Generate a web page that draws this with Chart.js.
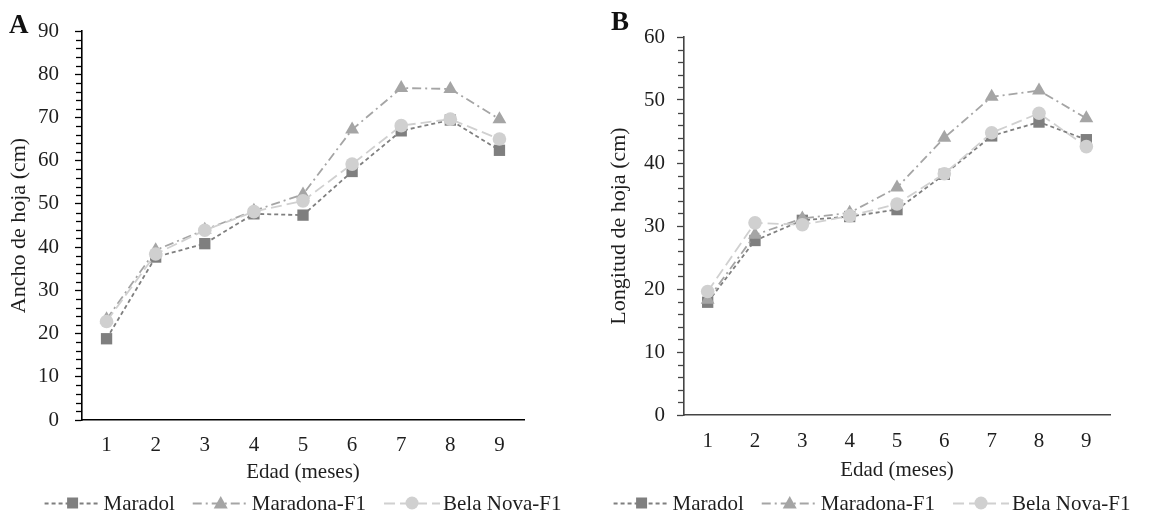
<!DOCTYPE html>
<html>
<head>
<meta charset="utf-8">
<script src="https://cdn.jsdelivr.net/npm/chart.js@4.4.1/dist/chart.umd.min.js"></script>
<style>
  html, body { margin: 0; padding: 0; background: #fff; }
  body { width: 1149px; height: 521px; position: relative; overflow: hidden; }
  .panel { position: absolute; top: 0; height: 521px; }
  #wa { left: 0; width: 575px; }
  #wb { left: 575px; width: 574px; }
  .tag { position: absolute; font-family: "Liberation Serif", serif; font-weight: bold; font-size: 27px; color: #111; }
</style>
</head>
<body>
<div class="panel" id="wa"><canvas id="ca" width="575" height="521"></canvas></div>
<div class="panel" id="wb"><canvas id="cb" width="574" height="521"></canvas></div>
<div class="tag" style="left:9px; top:9px;">A</div>
<div class="tag" style="left:611px; top:6px;">B</div>
<script>
// ---- data ----
const categories = ['1', '2', '3', '4', '5', '6', '7', '8', '9'];
const seriesNames = ['Maradol', 'Maradona-F1', 'Bela Nova-F1'];

const anchoMaradol  = [18.8, 37.7, 40.8, 47.7, 47.4, 57.5, 66.9, 69.4, 62.4];
const anchoMaradona = [23.3, 39.3, 44.0, 48.4, 52.2, 67.2, 76.8, 76.6, 69.6];
const anchoBelaNova = [22.8, 38.4, 43.9, 48.2, 50.7, 59.2, 68.1, 69.6, 65.0];

const longMaradol  = [17.9, 27.7, 30.9, 31.5, 32.6, 38.2, 44.3, 46.5, 43.7];
const longMaradona = [18.3, 28.6, 31.2, 32.1, 36.1, 44.0, 50.5, 51.5, 47.1];
const longBelaNova = [19.6, 30.5, 30.2, 31.6, 33.5, 38.3, 44.8, 47.9, 42.6];

const xTitle = 'Edad (meses)';
const yTitleA = 'Ancho de hoja (cm)';
const yTitleB = 'Longitud de hoja (cm)';

// ---- styles ----
const FONT = '"Liberation Serif", "Times New Roman", serif';
const TXT = '#1e1e1e';
const FS = 21;
const styles = [
  { color: '#7f7f7f', dash: [4, 3], pointStyle: 'rect', radius: 8, order: 3 },
  { color: '#a5a5a5', dash: [9, 4, 2, 4], pointStyle: 'triangle', radius: 8, order: 2 },
  { color: '#d0d0d0', dash: [11, 5], pointStyle: 'circle', radius: 6.8, order: 1 }
];

function makeDatasets(arrs) {
  return arrs.map((d, i) => ({
    label: seriesNames[i],
    data: d,
    borderColor: styles[i].color,
    backgroundColor: styles[i].color,
    borderWidth: 1.8,
    borderDash: styles[i].dash,
    pointStyle: styles[i].pointStyle,
    pointRadius: styles[i].radius,
    pointBorderWidth: 0,
    pointBackgroundColor: styles[i].color,
    pointBorderColor: styles[i].color,
    tension: 0,
    fill: false,
    order: styles[i].order
  }));
}

// minor ticks + custom legend plugin
const extras = {
  id: 'extras',
  afterDraw(chart, args, opts) {
    const ctx = chart.ctx;
    const ys = chart.scales.y;
    ctx.save();
    ctx.strokeStyle = opts.axisColor;
    ctx.lineWidth = 1.3;
    for (let v = ys.min; v <= ys.max; v += opts.minorStep) {
      if (Math.abs(v % opts.majorStep) < 1e-9) continue;
      const py = Math.round(ys.getPixelForValue(v)) + 0.5;
      ctx.beginPath();
      ctx.moveTo(ys.right - opts.minorLen, py);
      ctx.lineTo(ys.right, py);
      ctx.stroke();
    }
    ctx.restore();
    // legend
    ctx.save();
    ctx.font = FS + 'px ' + FONT;
    ctx.textBaseline = 'middle';
    const sampleW = 56, gapT = 3, gapItem = 18;
    const items = chart.data.datasets.map(ds => ({ ds, w: ctx.measureText(ds.label).width }));
    let total = 0;
    items.forEach((it, i) => { total += sampleW + gapT + it.w + (i < items.length - 1 ? gapItem : 0); });
    let x = opts.legendCenter - total / 2;
    const y = opts.legendY;
    items.forEach(it => {
      const ds = it.ds;
      ctx.strokeStyle = ds.borderColor;
      ctx.lineWidth = 1.8;
      ctx.setLineDash(ds.borderDash);
      ctx.beginPath();
      ctx.moveTo(x, y + 0.5);
      ctx.lineTo(x + sampleW, y + 0.5);
      ctx.stroke();
      ctx.setLineDash([]);
      const cx = x + sampleW / 2;
      ctx.fillStyle = ds.pointBackgroundColor;
      ctx.beginPath();
      if (ds.pointStyle === 'rect') {
        ctx.rect(cx - 5.5, y - 5.5, 11, 11);
      } else if (ds.pointStyle === 'triangle') {
        ctx.moveTo(cx, y - 7); ctx.lineTo(cx + 7, y + 5.5); ctx.lineTo(cx - 7, y + 5.5); ctx.closePath();
      } else {
        ctx.arc(cx, y, 6.5, 0, Math.PI * 2);
      }
      ctx.fill();
      ctx.fillStyle = TXT;
      ctx.textAlign = 'left';
      ctx.fillText(ds.label, x + sampleW + gapT, y + 1);
      x += sampleW + gapT + it.w + gapItem;
    });
    ctx.restore();
  }
};

function makeChart(canvasId, arrs, cfg) {
  return new Chart(document.getElementById(canvasId), {
    type: 'line',
    data: { labels: categories, datasets: makeDatasets(arrs) },
    plugins: [extras],
    options: {
      responsive: false,
      animation: false,
      events: [],
      layout: { padding: { left: cfg.padLeft, right: cfg.padRight, top: cfg.padTop, bottom: cfg.padBottom } },
      plugins: {
        legend: { display: false },
        tooltip: { enabled: false },
        extras: { minorStep: 2, majorStep: 10, minorLen: 6, axisColor: cfg.axisColor,
                  legendCenter: cfg.legendCenter, legendY: 503 }
      },
      scales: {
        x: {
          type: 'category',
          offset: true,
          grid: { display: true, drawOnChartArea: false, drawTicks: false },
          border: { display: true, color: cfg.axisColor, width: 1.6 },
          ticks: { color: TXT, font: { family: FONT, size: FS }, padding: cfg.xPad, maxRotation: 0 },
          title: { display: true, text: xTitle, color: TXT, font: { family: FONT, size: FS }, padding: 0 },
          afterFit: s => { s.height = cfg.xHeight; }
        },
        y: {
          min: 0, max: cfg.yMax,
          grid: { display: true, drawOnChartArea: false, drawTicks: true, tickLength: 7,
                  tickColor: cfg.axisColor, tickWidth: 1.3 },
          border: { display: true, color: cfg.axisColor, width: 1.6 },
          ticks: { stepSize: 10, color: TXT, font: { family: FONT, size: FS }, padding: cfg.yPad },
          title: { display: true, text: cfg.yTitle, color: TXT, font: { family: FONT, size: 22 }, padding: 0 },
          afterFit: s => { s.width = cfg.yWidth; }
        }
      }
    }
  });
}

makeChart('ca', [anchoMaradol, anchoMaradona, anchoBelaNova], {
  yMax: 90, yTitle: yTitleA, axisColor: '#000', yPad: 16,
  padLeft: 6, padRight: 51, padTop: 31, padBottom: 36, yWidth: 76, xHeight: 65, xPad: 13, legendCenter: 303
});
makeChart('cb', [longMaradol, longMaradona, longBelaNova], {
  yMax: 60, yTitle: yTitleB, axisColor: '#444', yPad: 12,
  padLeft: 31, padRight: 39, padTop: 37, padBottom: 38, yWidth: 78, xHeight: 68, xPad: 14, legendCenter: 297
});
</script>
</body>
</html>
